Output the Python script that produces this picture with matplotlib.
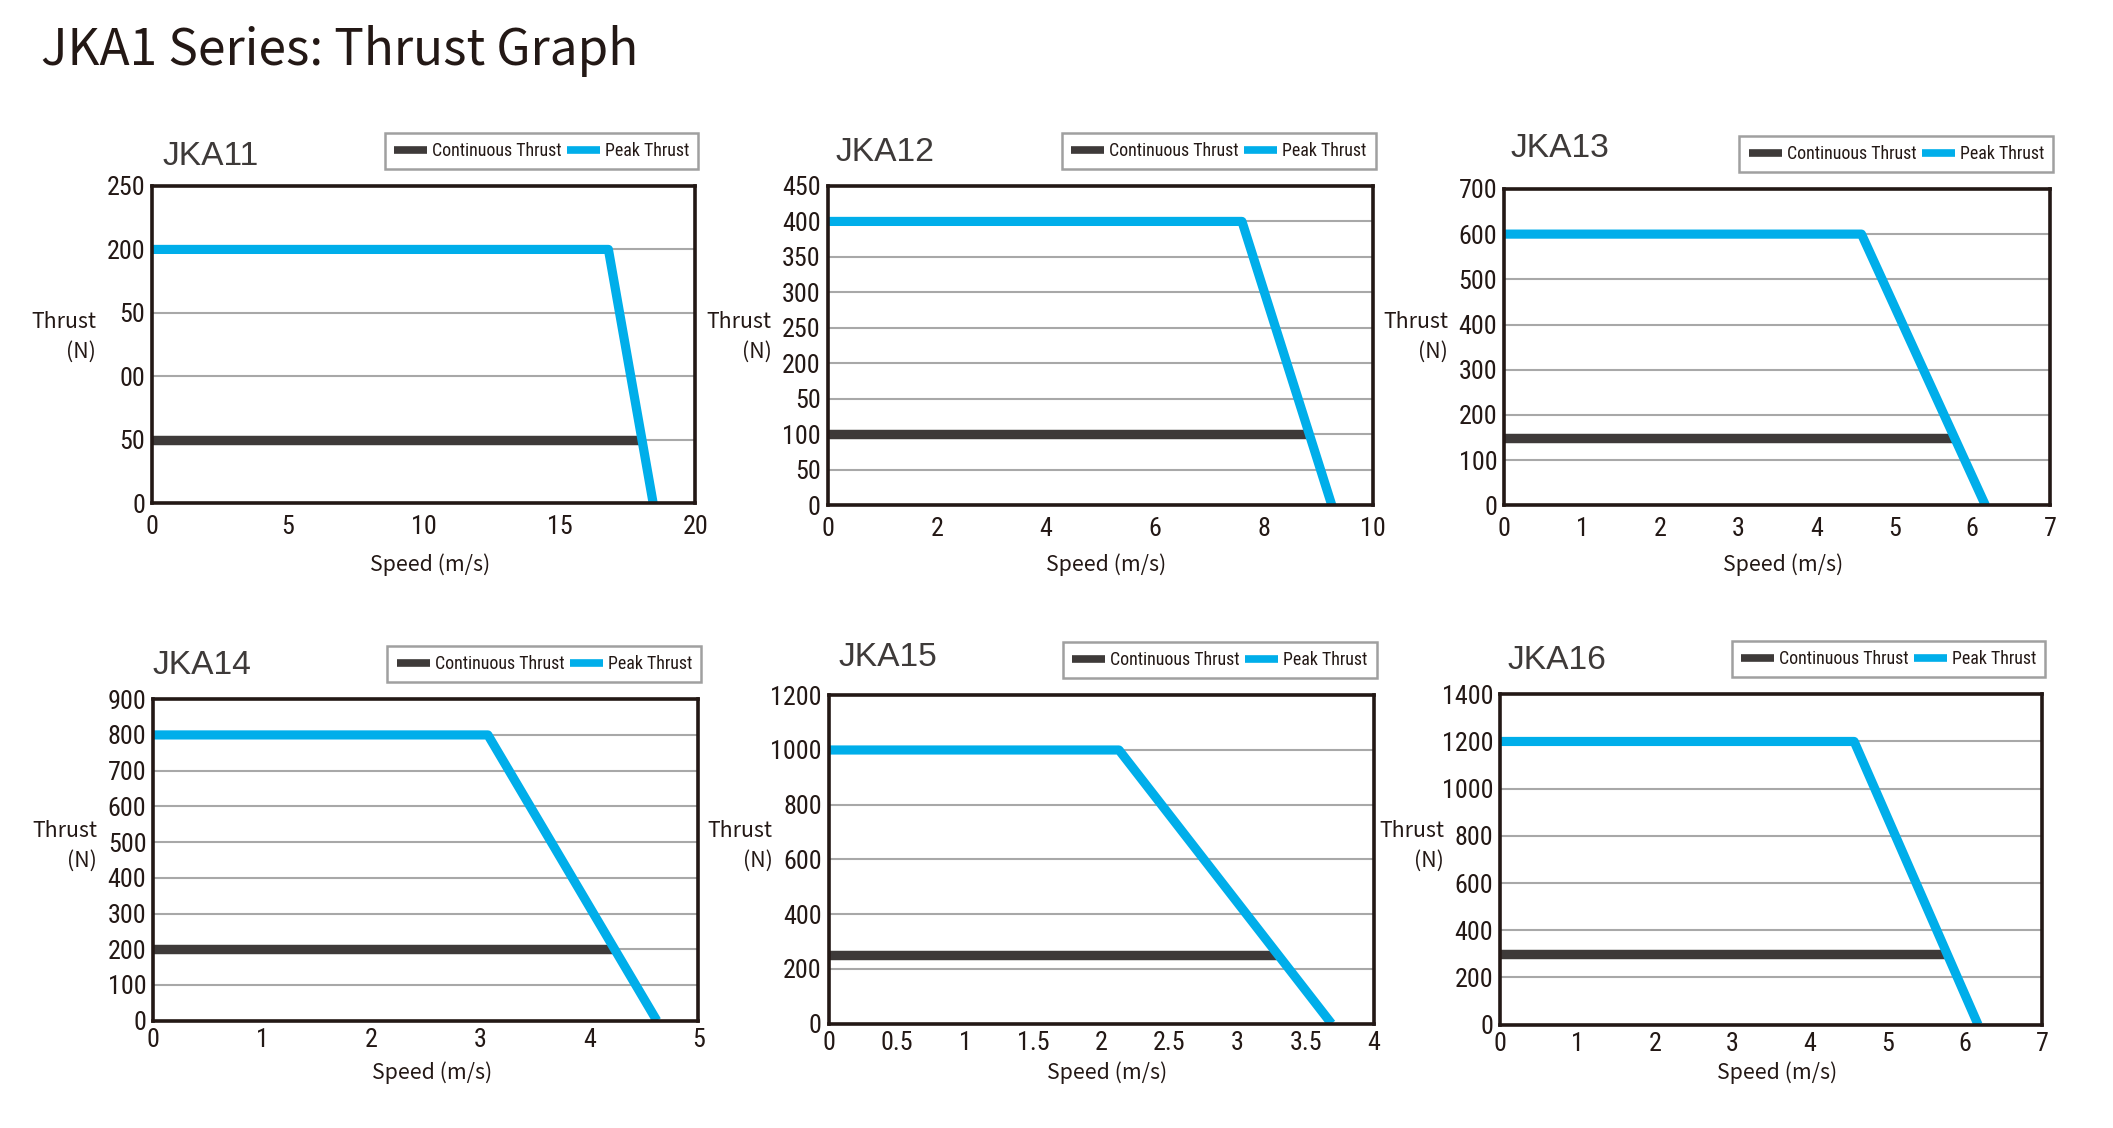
import os
import matplotlib
matplotlib.use('Agg')
import matplotlib.pyplot as plt
from matplotlib import font_manager as fm

# ---------------- data ----------------
models = ['JKA11', 'JKA12', 'JKA13', 'JKA14', 'JKA15', 'JKA16']

peak_speed = [[0, 16.8, 18.45], [0, 7.6, 9.25], [0, 4.58, 6.17],
              [0, 3.07, 4.62], [0, 2.13, 3.69], [0, 4.57, 6.17]]
peak_thrust = [[200, 200, 0], [400, 400, 0], [600, 600, 0],
               [800, 800, 0], [1000, 1000, 0], [1200, 1200, 0]]
cont_speed = [[0, 18.0], [0, 8.8], [0, 5.75], [0, 4.23], [0, 3.3], [0, 5.76]]
cont_thrust = [[50, 50], [100, 100], [150, 150], [200, 200], [250, 250], [300, 300]]

x_ticks = [[0, 5, 10, 15, 20],
           [0, 2, 4, 6, 8, 10],
           [0, 1, 2, 3, 4, 5, 6, 7],
           [0, 1, 2, 3, 4, 5],
           [0, 0.5, 1, 1.5, 2, 2.5, 3, 3.5, 4],
           [0, 1, 2, 3, 4, 5, 6, 7]]
x_tick_labels = [['0', '5', '10', '15', '20'],
                 ['0', '2', '4', '6', '8', '10'],
                 ['0', '1', '2', '3', '4', '5', '6', '7'],
                 ['0', '1', '2', '3', '4', '5'],
                 ['0', '0.5', '1', '1.5', '2', '2.5', '3', '3.5', '4'],
                 ['0', '1', '2', '3', '4', '5', '6', '7']]
y_ticks = [[0, 50, 100, 150, 200, 250],
           [0, 50, 100, 150, 200, 250, 300, 350, 400, 450],
           [0, 100, 200, 300, 400, 500, 600, 700],
           [0, 100, 200, 300, 400, 500, 600, 700, 800, 900],
           [0, 200, 400, 600, 800, 1000, 1200],
           [0, 200, 400, 600, 800, 1000, 1200, 1400]]
y_tick_labels = [['0', '50', '00', '50', '200', '250'],
                 ['0', '50', '100', '50', '200', '250', '300', '350', '400', '450'],
                 ['0', '100', '200', '300', '400', '500', '600', '700'],
                 ['0', '100', '200', '300', '400', '500', '600', '700', '800', '900'],
                 ['0', '200', '400', '600', '800', '1000', '1200'],
                 ['0', '200', '400', '600', '800', '1000', '1200', '1400']]

title_text = 'JKA1 Series: Thrust Graph'
legend_labels = ['Continuous Thrust', 'Peak Thrust']
ylabel_lines = ['Thrust', '(N)']
xlabel_text = 'Speed (m/s)'

# ---------------- layout (pixels) ----------------
W, H, DPI = 2113, 1128, 100
S = 0.989
boxes = [(154, 703, 188, 509), (837, 1388, 188, 511), (1521, 2073, 191, 511),
         (155, 706, 707, 1032), (838, 1389, 703, 1035), (1517, 2065, 702, 1036)]
name_pos = [(164, 158), (845, 154), (1527, 150), (154, 673), (848, 665), (1524, 668)]

BLUE = '#00aeea'
DARK = '#3e3a39'
INK = '#231815'

names = {f.name for f in fm.fontManager.ttflist}
CJK = 'Noto Sans CJK JP' if 'Noto Sans CJK JP' in names else 'DejaVu Sans'

# find a condensed / narrow sans for the numerals
prefs = ['LiberationSansNarrow-Regular', 'RobotoCondensed-Regular',
         'NotoSans-Condensed.', 'NotoSans-SemiCondensed.', 'OpenSans-CondensedRegular',
         'OpenSans_Condensed-Regular', 'DejaVuSansCondensed.']
narrow_path = None
files = [f.fname for f in fm.fontManager.ttflist]
for p in prefs:
    for fn in files:
        if p.lower() in os.path.basename(fn).lower():
            narrow_path = fn
            break
    if narrow_path:
        break
if narrow_path is None:
    for f in fm.fontManager.ttflist:
        if f.stretch in ('condensed', 'semi-condensed') and f.style == 'normal' \
                and f.weight in (400, 'normal', 'regular'):
            narrow_path = f.fname
            break

if narrow_path:
    tick_fp = fm.FontProperties(fname=narrow_path, size=19 * S)
    leg_fp = fm.FontProperties(fname=narrow_path, size=13.0 * S)
else:
    tick_fp = fm.FontProperties(family='Liberation Sans', size=16 * S)
    leg_fp = fm.FontProperties(family='Liberation Sans', size=11.5 * S)

fig = plt.figure(figsize=(W / DPI, H / DPI), dpi=DPI)
fig.patch.set_facecolor('white')

fig.text(41 * S / W, 1 - 66 * S / H, title_text, fontsize=35.7,
         family=[CJK, 'DejaVu Sans'], color=INK, ha='left', va='baseline')

for i in range(6):
    L, R, T, B = [v * S for v in boxes[i]]
    ax = fig.add_axes([L / W, 1 - B / H, (R - L) / W, (B - T) / H])
    ax.set_xlim(x_ticks[i][0], x_ticks[i][-1])
    ax.set_ylim(y_ticks[i][0], y_ticks[i][-1])
    ax.set_axisbelow(True)
    ax.grid(axis='y', color='#a8a8a8', lw=1.5)
    ax.grid(axis='x', visible=False)
    lc, = ax.plot(cont_speed[i], cont_thrust[i], color=DARK, lw=6.8,
                  solid_capstyle='butt', zorder=2, label=legend_labels[0])
    lp, = ax.plot(peak_speed[i], peak_thrust[i], color=BLUE, lw=6.6,
                  solid_capstyle='butt', solid_joinstyle='round', zorder=3,
                  label=legend_labels[1])
    ax.set_xticks(x_ticks[i])
    ax.set_xticklabels(x_tick_labels[i])
    ax.set_yticks(y_ticks[i])
    ax.set_yticklabels(y_tick_labels[i])
    top_row = i < 3
    ax.tick_params(axis='both', length=0, colors=INK)
    ax.tick_params(axis='x', pad=8.5 if top_row else 5)
    ax.tick_params(axis='y', pad=5)
    for lab in ax.get_xticklabels() + ax.get_yticklabels():
        lab.set_fontproperties(tick_fp)
    for sp in ax.spines.values():
        sp.set_color(INK)
        sp.set_linewidth(2.6)
        sp.set_zorder(5)

    # legend
    leg = ax.legend(handles=[lc, lp], loc='lower right', ncol=2,
                    bbox_to_anchor=((R + 3) / W, 1 - (T - 17 * S) / H),
                    bbox_transform=fig.transFigure, borderaxespad=0,
                    prop=leg_fp,
                    frameon=True, fancybox=False, framealpha=1,
                    edgecolor='#a0a0a0', handlelength=1.85, handletextpad=0.28,
                    columnspacing=0.3, borderpad=0.52)
    leg.get_frame().set_linewidth(1.8)
    for ln in leg.get_lines():
        ln.set_linewidth(5.5)
    for t in leg.get_texts():
        t.set_color(INK)

    # model name
    nx, ny = name_pos[i]
    fig.text(nx * S / W, 1 - ny * S / H, models[i], fontsize=24.5 * S,
             family=['Liberation Sans', 'DejaVu Sans'], color=DARK,
             ha='left', va='center')

    # y label (two lines)
    ly = (326, 356) if top_row else (840, 870)
    for txt, yy in zip(ylabel_lines, ly):
        fig.text((L - 57 * S) / W, 1 - yy * S / H, txt, fontsize=15.5 * S,
                 family=[CJK, 'DejaVu Sans'], color=INK, ha='right', va='center')
    # x label
    xy = 571 if top_row else 1085
    fig.text(((L + R) / 2 + 6 * S) / W, 1 - xy * S / H, xlabel_text,
             fontsize=15.5 * S, family=[CJK, 'DejaVu Sans'], color=INK,
             ha='center', va='center')

fig.savefig('out.png', dpi=DPI, facecolor='white')
